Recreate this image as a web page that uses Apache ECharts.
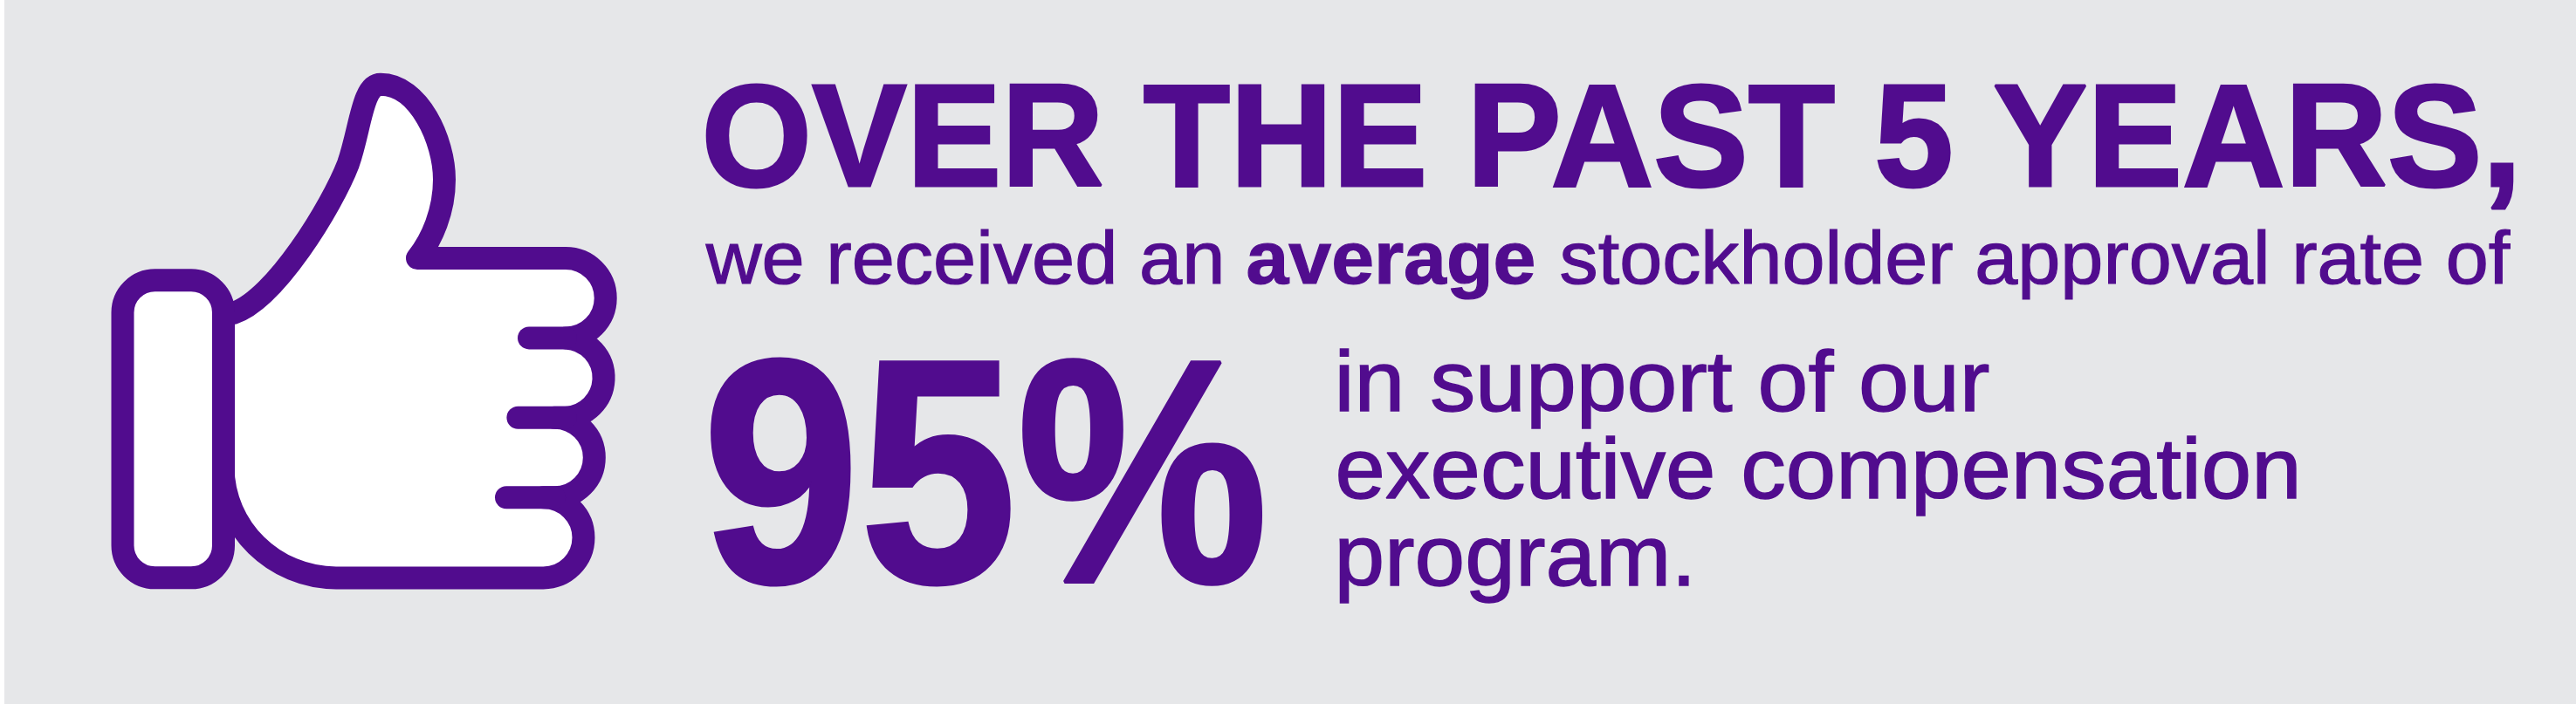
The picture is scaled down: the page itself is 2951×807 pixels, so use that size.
<!DOCTYPE html>
<html>
<head>
<meta charset="utf-8">
<style>html,body{margin:0;padding:0;background:#E6E7E9}#c{width:2951px;height:807px}</style>
<script src="https://cdn.jsdelivr.net/npm/echarts@6/dist/echarts.min.js"></script>
</head>
<body>
<div id="c"></div>
<script>
// Texts and the one value the picture shows
const headline = ["OVER THE PAST 5 YEARS,"];
const subline = ["we received an", "average", "stockholder approval rate of"];
const approvalRate = [95];
const bodyLines = ["in support of our", "executive compensation", "program."];

const PURPLE = "#510C8E";
const FAMILY = '"Liberation Sans", Arial, sans-serif';
const ctx = document.createElement("canvas").getContext("2d");

// Place a line of text so its ink runs from inkL to inkR, on the given baseline.
function fit(text, weight, size, inkL, inkR, baseline, heavier) {
  const font = weight + " " + size + "px " + FAMILY;
  ctx.font = font;
  ctx.textBaseline = "middle";
  const m = ctx.measureText(text);
  const inkW = m.actualBoundingBoxRight + m.actualBoundingBoxLeft + heavier;
  const sx = (inkR - inkL) / inkW;
  const mid = Math.abs(m.alphabeticBaseline) || size * 0.28;
  return {
    type: "text", silent: true,
    x: inkL + (m.actualBoundingBoxLeft + heavier / 2) * sx,
    y: baseline - mid,
    scaleX: sx,
    style: { text: text, font: font, fill: PURPLE, stroke: PURPLE, lineWidth: heavier, lineJoin: "round", align: "left", verticalAlign: "middle" }
  };
}

const handPath = "M255.6 360 L268 358.7 C315 343 380 237 399 187.6 C413 147.3 415 96.8 436 96.8 " +
  "C480 96.8 509 161.4 509 205.8 C509 242 495 274.4 478 296 " +
  "L648 296 A45.7 45.7 0 0 1 648 387.4 A45.7 45.7 0 0 1 648 478.7 L635 478.7 A45.8 45.8 0 0 1 635 570.3 L622.4 570.3 A46.05 46.05 0 0 1 622.4 662.4 L385 662.4 C314 662.4 255.6 605 255.6 535.3 Z";
const fingerPaths = ["M648 387.4 L606 387.4", "M648 478.7 L593.4 478.7", "M635 570.3 L580 570.3"];

echarts.graphic.registerShape("handOutline", echarts.graphic.extendPath(handPath, {}));

const outline = { stroke: PURPLE, lineWidth: 26, lineCap: "round", lineJoin: "round" };
const elements = [
  { type: "rect", silent: true, shape: { x: 0, y: 0, width: 5, height: 807 }, style: { fill: "#ffffff" } },
  { type: "handOutline", silent: true, style: Object.assign({ fill: "#ffffff" }, outline) },
  { type: "rect", silent: true, shape: { x: 140.5, y: 321.3, width: 115.5, height: 341, r: 37 }, style: Object.assign({ fill: "#ffffff" }, outline) }
];
fingerPaths.forEach(function (d, i) {
  const name = "fingerLine" + i;
  echarts.graphic.registerShape(name, echarts.graphic.extendPath(d, {}));
  elements.push({ type: name, silent: true, style: Object.assign({ fill: "none" }, outline) });
});
elements.push(
  fit(headline[0], "bold", 167, 808, 2880, 213, 3),
  fit(subline[0], "normal", 86, 807, 1399, 324.5, 1.2),
  fit(subline[1], "bold", 86, 1429, 1757, 324.5, 1.2),
  fit(subline[2], "normal", 86, 1788, 2877, 324.5, 1.2),
  fit(approvalRate[0] + "%", "bold", 366, 813, 1450, 667, 4),
  fit(bodyLines[0], "normal", 99, 1534, 2279, 470.5, 1.4),
  fit(bodyLines[1], "normal", 99, 1533, 2631, 570.5, 1.4),
  fit(bodyLines[2], "normal", 99, 1534, 1935, 670.5, 1.4)
);

const chart = echarts.init(document.getElementById("c"), null, { width: 2951, height: 807, renderer: "canvas" });
chart.setOption({ backgroundColor: "#E6E7E9", animation: false, graphic: { elements: elements } });
</script>
</body>
</html>
